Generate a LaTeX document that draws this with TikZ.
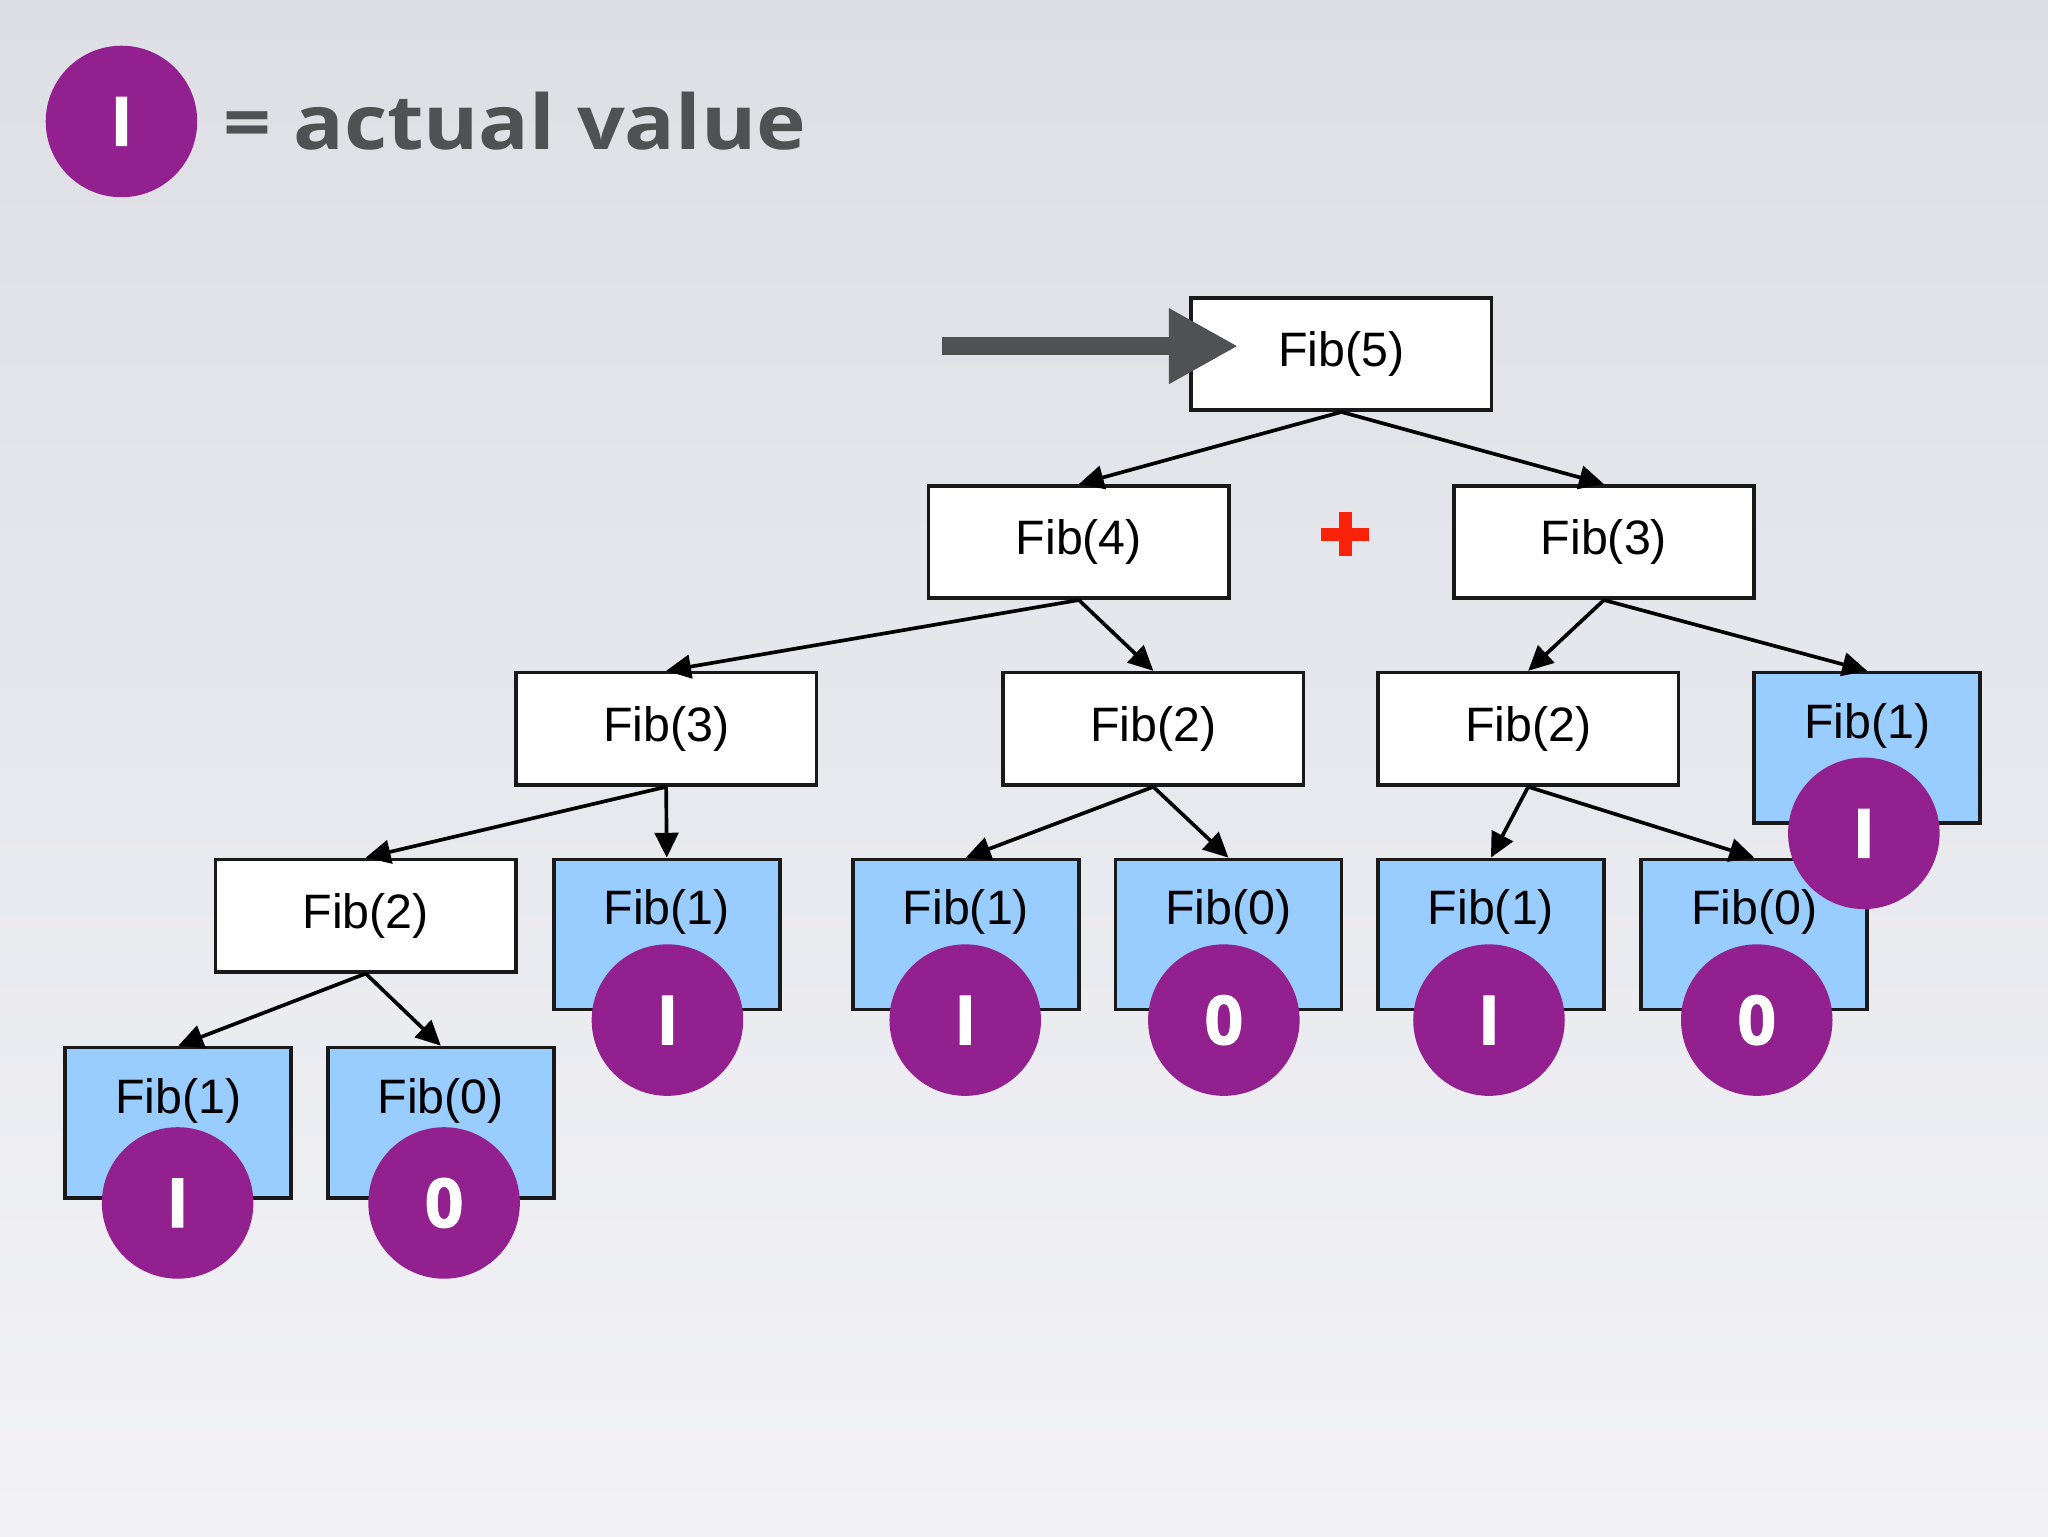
\documentclass[tikz,border=0pt]{standalone}
\usepackage{fontspec}
\setmainfont{Liberation Sans}
\newfontfamily\legendfont{Open Sans}
\newfontfamily\valfont{Open Sans}[BoldFeatures={FakeBold=1.5}]
\usetikzlibrary{arrows.meta}
\definecolor{bgtop}{RGB}{221,223,229}
\definecolor{bgbot}{RGB}{242,242,246}
\definecolor{purp}{RGB}{147,32,143}
\definecolor{leafblue}{RGB}{153,204,255}
\definecolor{darkg}{RGB}{80,81,83}
\definecolor{plusred}{RGB}{250,35,10}
\definecolor{boxline}{RGB}{25,25,25}
\begin{document}
\begin{tikzpicture}[x=1pt,y=-1pt,
  box/.style={draw=boxline,line width=2.8pt,fill=white,minimum width=230pt,minimum height=86pt,inner sep=0pt,font=\fontsize{37}{40}\selectfont},
  leaf/.style={draw=boxline,line width=2.8pt,fill=leafblue,minimum width=173pt,minimum height=115pt,inner sep=0pt},
  fibtext/.style={font=\fontsize{37}{40}\selectfont,inner sep=0pt},
  val/.style={circle,fill=purp,minimum size=116pt,inner sep=0pt,text=white,font=\valfont\bfseries\fontsize{52}{56}\selectfont},
  edge/.style={draw=black,line width=2.8pt,-{Triangle[length=19pt,width=18pt]}}]
\useasboundingbox (0,0) rectangle (1568,1176);
\shade[top color=bgtop,bottom color=bgbot] (0,0) rectangle (1568,1176);

% legend
\node[val] (legc) at (93,93) {I};
\node[anchor=south west,inner sep=0pt,text=darkg] (legt) at (171,115)
  {\resizebox{446pt}{44pt}{\legendfont\bfseries = actual value}};

% inner calls
\node[box] (f5) at (1027,271) {Fib(5)};
\node[box] (f4) at (826,415) {Fib(4)};
\node[box] (f3r) at (1228,415) {Fib(3)};
\node[box] (f3l) at (510,558) {Fib(3)};
\node[box] (f2m) at (883,558) {Fib(2)};
\node[box] (f2r) at (1170,558) {Fib(2)};
\node[box] (f2l) at (280,701) {Fib(2)};

% leaves
\node[leaf] (l1a) at (1429.5,572.5) {};
\node[leaf] (l1b) at (510.5,715.5) {};
\node[leaf] (l1c) at (739.5,715.5) {};
\node[leaf] (l0c) at (940.5,715.5) {};
\node[leaf] (l1d) at (1141.5,715.5) {};
\node[leaf] (l0d) at (1343,715.5) {};
\node[leaf] (l1e) at (136.5,859.5) {};
\node[leaf] (l0e) at (337.5,859.5) {};
\foreach \n/\t in {l1a/Fib(1),l1b/Fib(1),l1c/Fib(1),l0c/Fib(0),l1d/Fib(1),l0d/Fib(0),l1e/Fib(1),l0e/Fib(0)}
  \node[fibtext] (\n t) at ([yshift=-42pt]\n.north) {\t};

% edges
\draw[edge] (f5.south) -- (f4.north);
\draw[edge] (f5.south) -- (f3r.north);
\draw[edge] (f4.south) -- (f3l.north);
\draw[edge] (f4.south) -- (f2m.north);
\draw[edge] (f3r.south) -- (f2r.north);
\draw[edge] (f3r.south) -- (l1a.north);
\draw[edge] (f3l.south) -- (f2l.north);
\draw[edge] (f3l.south) -- (l1b.north);
\draw[edge] (f2m.south) -- (l1c.north);
\draw[edge] (f2m.south) -- (l0c.north);
\draw[edge] (f2r.south) -- (l1d.north);
\draw[edge] (f2r.south) -- (l0d.north);
\draw[edge] (f2l.south) -- (l1e.north);
\draw[edge] (f2l.south) -- (l0e.north);

% big pointer arrow
\coordinate (ptrstart) at (721,265);
\coordinate (ptrtip) at (948,265);
\draw[darkg,line width=14pt,-{Triangle[length=53pt,width=54pt]}] (ptrstart) -- (ptrtip);

% red plus
\coordinate (plusc) at (1030,409);
\draw[plusred,line width=10pt] ([xshift=-18.5pt]plusc) -- ([xshift=18.5pt]plusc);
\draw[plusred,line width=10pt] ([yshift=-17pt]plusc) -- ([yshift=17pt]plusc);

% value circles
\node[val] (v1a) at (1427,638) {I};
\node[val] (v1b) at (511,781) {I};
\node[val] (v1c) at (739,781) {I};
\node[val] (v0c) at (937,781) {0};
\node[val] (v1d) at (1140,781) {I};
\node[val] (v0d) at (1345,781) {0};
\node[val] (v1e) at (136,921) {I};
\node[val] (v0e) at (340,921) {0};
\end{tikzpicture}
\end{document}
